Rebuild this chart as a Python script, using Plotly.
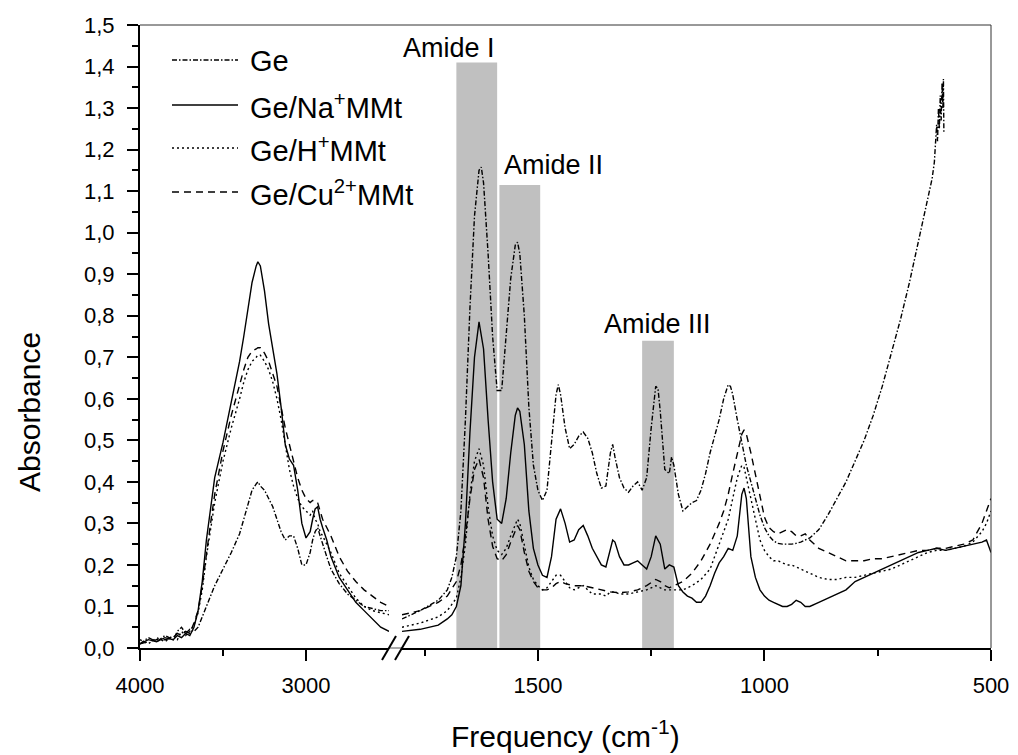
import plotly.graph_objects as go

# ---------------- data ----------------
series_names = ["Ge", "Ge/Na<sup>+</sup>MMt", "Ge/H<sup>+</sup>MMt", "Ge/Cu<sup>2+</sup>MMt"]

# Left segment: 4000 - 2500 cm-1 (shared wavenumber grid)
left_wn = [4000, 3950, 3900, 3850, 3800, 3775, 3750, 3725, 3700, 3675, 3650, 3625, 3600, 3575,
           3550, 3500, 3450, 3400, 3375, 3350, 3325, 3300, 3290, 3275, 3250, 3225, 3200, 3175,
           3150, 3125, 3100, 3075, 3050, 3025, 3000, 2975, 2960, 2945, 2930, 2915, 2900, 2875,
           2850, 2800, 2750, 2700, 2650, 2600, 2550, 2500]

ge_left = [0.010, 0.025, 0.015, 0.030, 0.020, 0.040, 0.050, 0.035, 0.045, 0.040, 0.050, 0.075,
           0.100, 0.125, 0.150, 0.190, 0.230, 0.275, 0.310, 0.350, 0.380, 0.395, 0.400, 0.390,
           0.380, 0.360, 0.340, 0.310, 0.280, 0.260, 0.270, 0.270, 0.240, 0.200, 0.200, 0.230,
           0.260, 0.280, 0.290, 0.270, 0.250, 0.220, 0.190, 0.155, 0.130, 0.115, 0.100, 0.095,
           0.090, 0.090]

na_left = [0.010, 0.020, 0.015, 0.025, 0.020, 0.030, 0.025, 0.035, 0.030, 0.050, 0.090, 0.160,
           0.260, 0.340, 0.410, 0.495, 0.590, 0.690, 0.750, 0.820, 0.880, 0.920, 0.930, 0.920,
           0.860, 0.780, 0.720, 0.660, 0.580, 0.490, 0.455, 0.440, 0.380, 0.300, 0.265, 0.280,
           0.310, 0.335, 0.340, 0.310, 0.290, 0.260, 0.220, 0.170, 0.140, 0.110, 0.090, 0.070,
           0.050, 0.040]

h_left = [0.020, 0.010, 0.025, 0.015, 0.030, 0.020, 0.040, 0.030, 0.040, 0.055, 0.085, 0.140,
          0.220, 0.290, 0.350, 0.450, 0.530, 0.600, 0.640, 0.670, 0.690, 0.700, 0.705, 0.705,
          0.690, 0.670, 0.640, 0.600, 0.550, 0.490, 0.430, 0.390, 0.360, 0.340, 0.330, 0.320,
          0.330, 0.310, 0.300, 0.280, 0.270, 0.250, 0.230, 0.180, 0.150, 0.120, 0.100, 0.090,
          0.085, 0.080]

cu_left = [0.010, 0.015, 0.020, 0.020, 0.025, 0.035, 0.030, 0.040, 0.035, 0.060, 0.090, 0.150,
           0.230, 0.300, 0.370, 0.475, 0.560, 0.635, 0.670, 0.700, 0.715, 0.720, 0.723, 0.723,
           0.710, 0.690, 0.660, 0.630, 0.580, 0.530, 0.490, 0.450, 0.410, 0.380, 0.360, 0.350,
           0.355, 0.355, 0.350, 0.330, 0.310, 0.290, 0.270, 0.220, 0.185, 0.160, 0.140, 0.125,
           0.110, 0.100]

# Right segment: 1800 - 500 cm-1
ge_right_wn = [1800, 1760, 1720, 1700, 1690, 1680, 1670, 1660, 1650, 1640, 1630, 1625, 1620, 1610,
               1600, 1590, 1580, 1570, 1560, 1550, 1545, 1540, 1530, 1520, 1510, 1500, 1490, 1480,
               1470, 1460, 1455, 1450, 1440, 1430, 1420, 1410, 1400, 1390, 1380, 1370, 1360, 1350,
               1340, 1335, 1330, 1320, 1310, 1300, 1290, 1280, 1270, 1260, 1250, 1240, 1235, 1230,
               1220, 1210, 1205, 1200, 1190, 1180, 1170, 1160, 1150, 1140, 1130, 1120, 1110, 1100,
               1090, 1080, 1075, 1070, 1060, 1050, 1040, 1030, 1020, 1010, 1000, 990, 980, 970,
               960, 950, 940, 930, 920, 910, 900, 890, 880, 860, 840, 820, 800, 780, 760, 740,
               720, 700, 680, 660, 650, 640, 635, 630, 625, 622, 620, 618, 616, 614, 612, 610,
               608, 606, 605, 604]
ge_right = [0.070, 0.090, 0.115, 0.140, 0.170, 0.220, 0.330, 0.550, 0.820, 1.040, 1.150, 1.158,
            1.120, 0.950, 0.750, 0.620, 0.620, 0.750, 0.890, 0.970, 0.977, 0.950, 0.800, 0.580,
            0.440, 0.380, 0.355, 0.380, 0.500, 0.610, 0.634, 0.610, 0.530, 0.480, 0.490, 0.510,
            0.520, 0.505, 0.470, 0.420, 0.385, 0.390, 0.470, 0.490, 0.460, 0.410, 0.385, 0.375,
            0.390, 0.400, 0.380, 0.410, 0.530, 0.630, 0.625, 0.570, 0.430, 0.420, 0.460, 0.440,
            0.370, 0.330, 0.340, 0.350, 0.355, 0.380, 0.420, 0.470, 0.510, 0.550, 0.600, 0.634,
            0.630, 0.610, 0.550, 0.490, 0.440, 0.400, 0.360, 0.320, 0.290, 0.270, 0.258, 0.252,
            0.250, 0.250, 0.250, 0.252, 0.255, 0.260, 0.265, 0.275, 0.285, 0.320, 0.360, 0.400,
            0.450, 0.500, 0.560, 0.630, 0.710, 0.790, 0.880, 0.980, 1.030, 1.080, 1.110, 1.130,
            1.170, 1.230, 1.260, 1.220, 1.300, 1.250, 1.330, 1.270, 1.360, 1.300, 1.370, 1.240]

na_right_wn = [1800, 1760, 1720, 1700, 1690, 1680, 1670, 1660, 1650, 1640, 1630, 1620, 1610, 1600,
               1590, 1580, 1570, 1560, 1550, 1545, 1540, 1530, 1520, 1510, 1500, 1490, 1480, 1470,
               1460, 1450, 1440, 1430, 1420, 1410, 1400, 1390, 1380, 1370, 1360, 1350, 1340, 1335,
               1330, 1320, 1310, 1300, 1290, 1280, 1270, 1260, 1250, 1240, 1230, 1220, 1210, 1200,
               1190, 1180, 1170, 1160, 1150, 1140, 1130, 1120, 1110, 1100, 1090, 1080, 1070, 1060,
               1050, 1045, 1040, 1030, 1020, 1010, 1000, 990, 980, 970, 960, 950, 940, 930, 920,
               910, 900, 880, 860, 840, 820, 800, 780, 760, 740, 720, 700, 680, 660, 640, 620,
               600, 580, 560, 540, 520, 510, 500]
na_right = [0.040, 0.045, 0.055, 0.070, 0.080, 0.100, 0.150, 0.300, 0.520, 0.700, 0.785, 0.720,
            0.550, 0.400, 0.310, 0.300, 0.360, 0.470, 0.560, 0.578, 0.570, 0.490, 0.330, 0.240,
            0.200, 0.175, 0.170, 0.220, 0.310, 0.335, 0.300, 0.255, 0.260, 0.285, 0.295, 0.270,
            0.240, 0.220, 0.200, 0.195, 0.240, 0.260, 0.255, 0.220, 0.200, 0.200, 0.205, 0.210,
            0.200, 0.190, 0.220, 0.270, 0.250, 0.190, 0.200, 0.195, 0.150, 0.135, 0.125, 0.120,
            0.110, 0.110, 0.125, 0.150, 0.180, 0.205, 0.220, 0.240, 0.235, 0.270, 0.370, 0.385,
            0.360, 0.220, 0.170, 0.140, 0.125, 0.115, 0.110, 0.105, 0.100, 0.100, 0.105, 0.115,
            0.110, 0.100, 0.100, 0.110, 0.120, 0.130, 0.140, 0.160, 0.170, 0.180, 0.190, 0.200,
            0.210, 0.220, 0.230, 0.235, 0.240, 0.235, 0.240, 0.245, 0.250, 0.255, 0.260, 0.230]

h_right_wn = [1800, 1760, 1720, 1700, 1680, 1670, 1660, 1650, 1640, 1630, 1620, 1610, 1600, 1590,
              1580, 1570, 1560, 1550, 1545, 1540, 1530, 1520, 1510, 1500, 1490, 1480, 1470, 1460,
              1450, 1440, 1430, 1420, 1410, 1400, 1390, 1380, 1370, 1360, 1350, 1340, 1330, 1320,
              1300, 1280, 1260, 1250, 1240, 1230, 1220, 1210, 1200, 1180, 1160, 1140, 1120, 1110,
              1100, 1090, 1080, 1070, 1060, 1050, 1045, 1040, 1030, 1020, 1010, 1000, 990, 980,
              970, 960, 950, 940, 930, 920, 900, 880, 860, 840, 820, 800, 780, 760, 740, 720, 700,
              680, 660, 640, 620, 600, 580, 560, 540, 520, 510, 500]
h_right = [0.050, 0.060, 0.075, 0.090, 0.120, 0.170, 0.250, 0.370, 0.450, 0.480, 0.440, 0.340,
           0.270, 0.235, 0.225, 0.240, 0.270, 0.300, 0.310, 0.300, 0.250, 0.195, 0.165, 0.150,
           0.140, 0.145, 0.160, 0.175, 0.175, 0.160, 0.145, 0.140, 0.145, 0.150, 0.140, 0.130,
           0.130, 0.130, 0.125, 0.135, 0.135, 0.130, 0.130, 0.135, 0.140, 0.145, 0.150, 0.145,
           0.140, 0.140, 0.140, 0.140, 0.150, 0.165, 0.190, 0.220, 0.250, 0.280, 0.310, 0.360,
           0.410, 0.440, 0.435, 0.410, 0.360, 0.310, 0.260, 0.235, 0.220, 0.210, 0.210, 0.205,
           0.200, 0.200, 0.195, 0.190, 0.180, 0.170, 0.165, 0.165, 0.170, 0.170, 0.175, 0.180,
           0.185, 0.190, 0.200, 0.210, 0.220, 0.230, 0.235, 0.235, 0.240, 0.245, 0.255, 0.280,
           0.300, 0.330]

cu_right_wn = [1800, 1760, 1720, 1700, 1680, 1670, 1660, 1650, 1640, 1630, 1620, 1610, 1600, 1590,
               1580, 1570, 1560, 1550, 1545, 1540, 1530, 1520, 1510, 1500, 1490, 1480, 1470, 1460,
               1450, 1440, 1420, 1400, 1380, 1360, 1340, 1320, 1300, 1280, 1260, 1240, 1230, 1220,
               1210, 1200, 1180, 1160, 1140, 1120, 1100, 1090, 1080, 1070, 1060, 1050, 1045, 1040,
               1030, 1020, 1010, 1000, 990, 980, 970, 960, 950, 940, 930, 920, 910, 900, 880, 860,
               840, 820, 800, 780, 760, 740, 720, 700, 680, 660, 640, 620, 600, 580, 560, 540, 520,
               510, 500]
cu_right = [0.080, 0.090, 0.110, 0.125, 0.160, 0.200, 0.270, 0.360, 0.430, 0.455, 0.410, 0.310,
            0.245, 0.215, 0.210, 0.225, 0.255, 0.285, 0.295, 0.285, 0.230, 0.185, 0.160, 0.145,
            0.140, 0.140, 0.145, 0.155, 0.160, 0.155, 0.150, 0.150, 0.145, 0.140, 0.135, 0.133,
            0.135, 0.140, 0.150, 0.165, 0.160, 0.150, 0.145, 0.150, 0.160, 0.180, 0.210, 0.250,
            0.300, 0.330, 0.370, 0.420, 0.470, 0.515, 0.525, 0.515, 0.470, 0.420, 0.370, 0.315,
            0.290, 0.280, 0.275, 0.280, 0.285, 0.280, 0.270, 0.270, 0.275, 0.260, 0.240, 0.230,
            0.220, 0.210, 0.210, 0.210, 0.215, 0.215, 0.220, 0.225, 0.230, 0.235, 0.235, 0.240,
            0.240, 0.245, 0.250, 0.260, 0.300, 0.330, 0.360]

amide_labels = ["Amide I", "Amide II", "Amide III"]
amide_bands = [(1680, 1590, 1.41), (1585, 1495, 1.115), (1270, 1200, 0.74)]

y_ticks = [round(0.1 * i, 1) for i in range(16)]
y_ticktext = [f"{v:.1f}".replace(".", ",") for v in y_ticks]
left_ticks = [4000, 3000]
right_ticks = [1500, 1000, 500]

# ---------------- styles ----------------
dashes = ["5px,2px,1.5px,2px", "solid", "2px,3px", "7px,5px"]
LW = 1.4
FONT = "Liberation Sans, Arial, sans-serif"

fig = go.Figure()
left_vals = [ge_left, na_left, h_left, cu_left]
right_data = [(ge_right_wn, ge_right), (na_right_wn, na_right), (h_right_wn, h_right), (cu_right_wn, cu_right)]
for name, dash, ly, (rx, ry) in zip(series_names, dashes, left_vals, right_data):
    fig.add_trace(go.Scatter(x=left_wn, y=ly, xaxis="x", yaxis="y", mode="lines", name=name,
                             line=dict(color="black", width=LW, dash=dash), showlegend=False))
    fig.add_trace(go.Scatter(x=rx, y=ry, xaxis="x2", yaxis="y", mode="lines", name=name,
                             line=dict(color="black", width=LW, dash=dash), showlegend=False))

# plot area in pixels: x 140..991, y 25..648
L, R, T, B = 140, 991, 25, 648
W, H = R - L, B - T
def px(x):
    return (x - L) / W
def py(y):
    return (B - y) / H

left_end = px(389)
right_start = px(402)

axis_common = dict(showline=True, linecolor="black", linewidth=2, ticks="outside", ticklen=11,
                   tickwidth=2, tickcolor="black", showgrid=False, zeroline=False,
                   tickfont=dict(family=FONT, size=22, color="black"))

fig.update_layout(
    width=1018, height=755,
    margin=dict(l=L, r=1018 - R, t=T, b=755 - B, autoexpand=False),
    plot_bgcolor="white", paper_bgcolor="white", showlegend=False,
    font=dict(family=FONT, color="black"),
    xaxis=dict(domain=[0, left_end], range=[4000, 2500], anchor="y", tickmode="array",
               tickvals=left_ticks, ticktext=[str(v) for v in left_ticks], ticklabelstandoff=6,
               minor=dict(tickvals=[3500], ticks="outside", ticklen=6, tickwidth=2, tickcolor="black"),
               **axis_common),
    xaxis2=dict(domain=[right_start, 1], range=[1800, 500], anchor="y", tickmode="array",
                tickvals=right_ticks, ticktext=[str(v) for v in right_ticks], ticklabelstandoff=6,
                minor=dict(tickvals=[1750, 1250, 750], ticks="outside", ticklen=6, tickwidth=2,
                           tickcolor="black"),
                **axis_common),
    yaxis=dict(domain=[0, 1], range=[0, 1.5], anchor="x", tickmode="array", tickvals=y_ticks,
               ticktext=y_ticktext, ticklabelstandoff=8,
               minor=dict(tick0=0, dtick=0.05, ticks="outside", ticklen=6, tickwidth=2, tickcolor="black"),
               **axis_common),
)

shapes = []
# amide bands
for (x0, x1, top) in amide_bands:
    shapes.append(dict(type="rect", xref="x2", yref="y", x0=x0, x1=x1, y0=0, y1=top,
                       fillcolor="#c0c0c0", line=dict(width=0), layer="below"))
# frame (top / right)
shapes.append(dict(type="line", xref="paper", yref="paper", x0=0, x1=1, y0=1, y1=1,
                   line=dict(color="#333333", width=1)))
shapes.append(dict(type="line", xref="paper", yref="paper", x0=1, x1=1, y0=0, y1=1,
                   line=dict(color="#333333", width=1)))
# gap line & break marks
shapes.append(dict(type="line", xref="paper", yref="paper", x0=px(389), x1=px(402), y0=0, y1=0,
                   line=dict(color="#aaaaaa", width=2)))
for cx in (389, 402):
    shapes.append(dict(type="line", xref="paper", yref="paper", x0=px(cx - 7), x1=px(cx + 7),
                       y0=py(660), y1=py(636), line=dict(color="black", width=2)))
# manual legend samples
legend_rows = [60, 105, 148, 192]
for yrow, dash in zip(legend_rows, dashes):
    shapes.append(dict(type="line", xref="paper", yref="paper", x0=px(172), x1=px(238),
                       y0=py(yrow), y1=py(yrow), line=dict(color="black", width=LW, dash=dash)))
fig.update_layout(shapes=shapes)

ann = []
for yrow, name in zip(legend_rows, series_names):
    ann.append(dict(xref="paper", yref="paper", x=px(248), y=py(yrow + 1), text=name, showarrow=False,
                    xanchor="left", yanchor="middle", font=dict(family=FONT, size=29, color="black")))
# amide labels
ann.append(dict(xref="x2", yref="y", x=1590, y=(B - 48) / H * 1.5, text=amide_labels[0], showarrow=False,
                xanchor="right", yanchor="middle", font=dict(family=FONT, size=27, color="black")))
ann.append(dict(xref="x2", yref="y", x=1580, y=(B - 165) / H * 1.5, text=amide_labels[1], showarrow=False,
                xanchor="left", yanchor="middle", font=dict(family=FONT, size=27, color="black")))
ann.append(dict(xref="x2", yref="y", x=1235, y=(B - 324) / H * 1.5, text=amide_labels[2], showarrow=False,
                xanchor="center", yanchor="middle", font=dict(family=FONT, size=27, color="black")))
# axis titles
ann.append(dict(xref="paper", yref="paper", x=0.5, y=py(734), text="Frequency (cm<sup>-1</sup>)",
                showarrow=False, xanchor="center", yanchor="middle",
                font=dict(family=FONT, size=30, color="black")))
ann.append(dict(xref="paper", yref="paper", x=px(30), y=py(412), text="Absorbance", textangle=-90,
                showarrow=False, xanchor="center", yanchor="middle",
                font=dict(family=FONT, size=30, color="black")))
fig.update_layout(annotations=ann)

fig.write_html("out.html")
